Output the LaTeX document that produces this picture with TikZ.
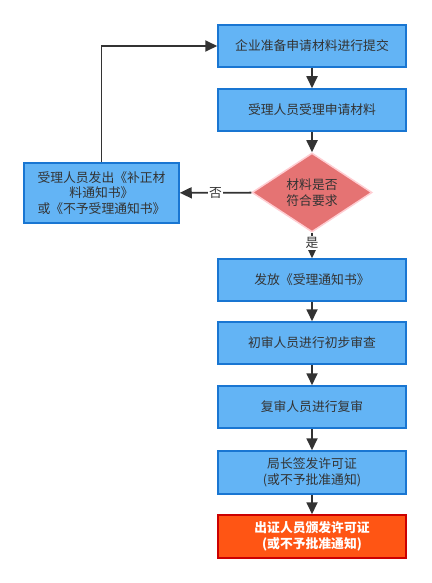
\documentclass[tikz,border=0pt]{standalone}
\usepackage{fontspec}
\setmainfont{Noto Sans CJK SC}
\usetikzlibrary{shapes.geometric,arrows.meta}
\definecolor{boxfill}{RGB}{99,180,245}
\definecolor{boxline}{RGB}{25,118,210}
\definecolor{diafill}{RGB}{229,115,115}
\definecolor{dialine}{RGB}{255,205,210}
\definecolor{endfill}{RGB}{255,85,20}
\definecolor{endline}{RGB}{204,0,0}
\definecolor{txt}{RGB}{51,51,51}
\begin{document}
\begin{tikzpicture}[x=1pt,y=-1pt,font=\fontsize{12.8}{15.5}\selectfont,
  stepbox/.style={draw=boxline,fill=boxfill,line width=1.5pt,text=txt,
    minimum width=188pt,minimum height=42pt,align=center,inner sep=2pt},
  endbox/.style={stepbox,draw=endline,fill=endfill,text=white},
  check/.style={diamond,draw=dialine,fill=diafill,line width=1.5pt,text=txt,
    minimum width=120pt,minimum height=79pt,aspect=1.5,align=center,inner sep=0pt},
  flow/.style={draw=txt,line width=1.8pt,-{Triangle[length=12pt,width=11pt]}},
  tag/.style={fill=white,text=txt,inner sep=1pt}]
  \useasboundingbox (0,0) rectangle (431,583);
  \node[stepbox] (submit) at (312,46) {企业准备申请材料进行提交};
  \node[stepbox] (accept) at (312,110) {受理人员受理申请材料};
  \node[check] (ok) at (312,192.5) {材料是否\\符合要求};
  \node[stepbox,minimum width=155pt,minimum height=60pt] (back) at (101.5,193)
    {受理人员发出《补正材\\料通知书》\\或《不予受理通知书》};
  \node[stepbox] (notice) at (312,280) {发放《受理通知书》};
  \node[stepbox] (first) at (312,343) {初审人员进行初步审查};
  \node[stepbox] (second) at (312,407) {复审人员进行复审};
  \node[stepbox,minimum height=43pt] (sign) at (312,472.5) {局长签发许可证\\(或不予批准通知)};
  \node[endbox,minimum height=43pt] (issue) at (312,536.5) {\bfseries 出证人员颁发许可证\\\bfseries (或不予批准通知)};

  \draw[flow] (submit) -- (accept);
  \draw[flow] (accept) -- (ok);
  \draw[flow] (ok) -- node[tag] {否} (back);
  \draw[flow] (ok) -- node[tag,pos=0.4] {是} (notice);
  \draw[flow] (back.north) |- (submit.west);
  \draw[flow] (notice) -- (first);
  \draw[flow] (first) -- (second);
  \draw[flow] (second) -- (sign);
  \draw[flow] (sign) -- (issue);
\end{tikzpicture}
\end{document}
